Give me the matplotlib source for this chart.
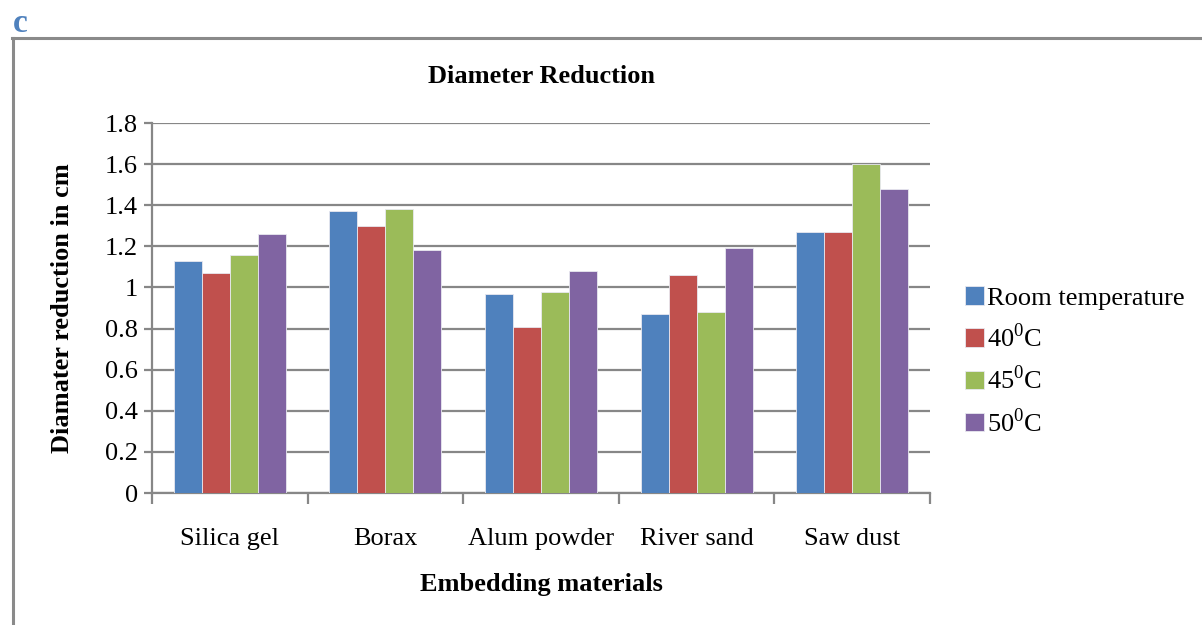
import numpy as np
import matplotlib
matplotlib.use("Agg")
import matplotlib.pyplot as plt
from matplotlib.lines import Line2D

plt.rcParams['font.family'] = ['Liberation Serif', 'DejaVu Serif']
plt.rcParams['mathtext.fontset'] = 'custom'
plt.rcParams['mathtext.rm'] = 'Liberation Serif'

# Embedding materials
materials = ["Silica gel", "Borax", "Alum powder", "River sand", "Saw dust"]

# Drying conditions
series = ["Room temperature", r"40$^{\mathrm{0}}$C", r"45$^{\mathrm{0}}$C", r"50$^{\mathrm{0}}$C"]

# Diameter reduction in cm for each condition
room_temp = [1.13, 1.37, 0.97, 0.87, 1.27]
temp_40 = [1.07, 1.30, 0.81, 1.06, 1.27]
temp_45 = [1.16, 1.38, 0.98, 0.88, 1.60]
temp_50 = [1.26, 1.18, 1.08, 1.19, 1.48]

data = [room_temp, temp_40, temp_45, temp_50]
colors = ['#4F81BD', '#C0504D', '#9BBB59', '#8064A2']

fig = plt.figure(figsize=(12.02, 6.25), dpi=100)
ax = fig.add_axes([0.1265, 0.2112, 0.6472, 0.592])

x = np.arange(len(materials))
bar_width = 0.18
for i in range(len(data)):
    ax.bar(x + (i - 1.5) * bar_width, data[i], width=bar_width, color=colors[i],
           edgecolor='#e8e8f0', linewidth=0.6, label=series[i], zorder=3)

ax.set_xlim(-0.5, len(materials) - 0.5)
ax.set_ylim(0, 1.8)
ax.set_yticks(np.arange(0, 1.81, 0.2))
ax.set_yticklabels(["0", "0.2", "0.4", "0.6", "0.8", "1", "1.2", "1.4", "1.6", "1.8"], fontsize=19)
ax.yaxis.grid(True, color='#878787', linewidth=1.6, zorder=0)
ax.set_axisbelow(True)

# category labels between boundary ticks
ax.set_xticks(np.arange(-0.5, len(materials)), minor=False)
ax.set_xticklabels([])
ax.set_xticks(x, minor=True)
ax.set_xticklabels(materials, minor=True, fontsize=19)
ax.tick_params(axis='x', which='minor', length=0, pad=25)
ax.tick_params(axis='x', which='major', length=8, width=1.6, color='#878787')
ax.tick_params(axis='y', length=6, width=1.6, color='#878787', pad=4)

for s in ['top', 'right']:
    ax.spines[s].set_visible(False)
for s in ['left', 'bottom']:
    ax.spines[s].set_color('#878787')
    ax.spines[s].set_linewidth(1.6)

ax.set_title("Diameter Reduction", fontsize=19, fontweight='bold', pad=29)
ax.set_xlabel("Embedding materials", fontsize=19, fontweight='bold', labelpad=17)
ax.set_ylabel("Diamater reduction in cm", fontsize=19, fontweight='bold', labelpad=22)

ax.legend(loc='center left', bbox_to_anchor=(1.032, 0.356), frameon=False, fontsize=19,
          handlelength=0.7, handleheight=0.7, handletextpad=0.12, labelspacing=0.52,
          borderaxespad=0.0)

# panel letter and frame
fig.text(0.011, 0.963, "c", fontsize=24, fontweight='bold', color='#4F81BD', ha='left', va='center')
fig.add_artist(Line2D([0.0108, 0.0108], [0.0, 0.939], color='#8a8a8a', linewidth=2.2))
fig.add_artist(Line2D([0.0100, 1.0], [0.939, 0.939], color='#8a8a8a', linewidth=2.2))

plt.savefig("out.png", dpi=100)
